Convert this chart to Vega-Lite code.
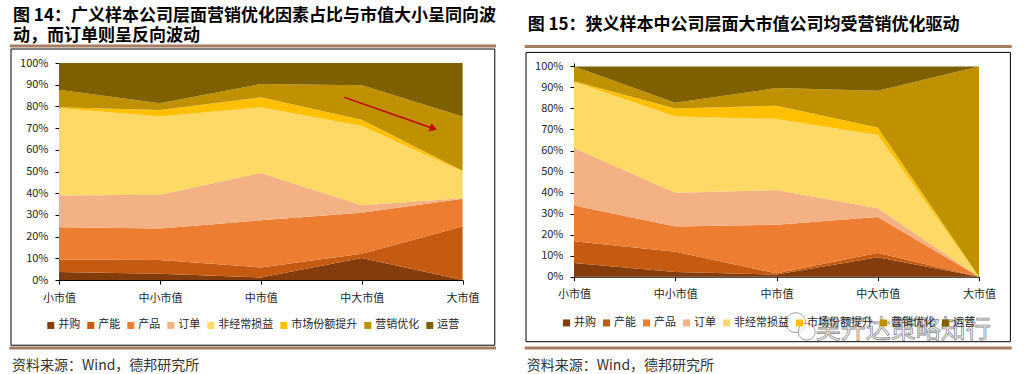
{
  "$schema": "https://vega.github.io/schema/vega-lite/v6.json",
  "autosize": {"type": "pad"},
  "padding": 0,
  "background": "white",
  "bounds": "flush",
  "spacing": 111,
  "resolve": {"scale": {"color": "independent"}, "legend": {"color": "independent"}},
  "config": {
    "view": {"stroke": null},
    "axis": {"grid": false, "domainColor": "#000000", "tickColor": "#000000", "labelColor": "#262626", "labelFont": "Noto Sans CJK SC", "labelFontSize": 11, "tickSize": 4, "title": null, "zindex": 1},
    "legend": {"symbolType": "square", "symbolSize": 49, "symbolStrokeWidth": 0, "labelFont": "Noto Sans CJK SC", "labelFontSize": 11, "labelColor": "#262626", "labelOffset": 2, "columnPadding": 5, "padding": 0, "title": null},
    "text": {"font": "Noto Sans CJK SC"}
  },
  "datasets": {
    "left": [
      {"c": "小市值", "s": "并购", "v": 3.7, "o": 1},
      {"c": "小市值", "s": "产能", "v": 5.8, "o": 2},
      {"c": "小市值", "s": "产品", "v": 14.8, "o": 3},
      {"c": "小市值", "s": "订单", "v": 14.6, "o": 4},
      {"c": "小市值", "s": "非经常损益", "v": 40.4, "o": 5},
      {"c": "小市值", "s": "市场份额提升", "v": 0.3, "o": 6},
      {"c": "小市值", "s": "营销优化", "v": 8.1, "o": 7},
      {"c": "小市值", "s": "运营", "v": 12.3, "o": 8},
      {"c": "中小市值", "s": "并购", "v": 2.9, "o": 1},
      {"c": "中小市值", "s": "产能", "v": 6.3, "o": 2},
      {"c": "中小市值", "s": "产品", "v": 14.5, "o": 3},
      {"c": "中小市值", "s": "订单", "v": 15.6, "o": 4},
      {"c": "中小市值", "s": "非经常损益", "v": 36.1, "o": 5},
      {"c": "中小市值", "s": "市场份额提升", "v": 2.9, "o": 6},
      {"c": "中小市值", "s": "营销优化", "v": 3.1, "o": 7},
      {"c": "中小市值", "s": "运营", "v": 18.6, "o": 8},
      {"c": "中市值", "s": "并购", "v": 1.2, "o": 1},
      {"c": "中市值", "s": "产能", "v": 4.6, "o": 2},
      {"c": "中市值", "s": "产品", "v": 21.7, "o": 3},
      {"c": "中市值", "s": "订单", "v": 21.8, "o": 4},
      {"c": "中市值", "s": "非经常损益", "v": 30.3, "o": 5},
      {"c": "中市值", "s": "市场份额提升", "v": 4.6, "o": 6},
      {"c": "中市值", "s": "营销优化", "v": 6.1, "o": 7},
      {"c": "中市值", "s": "运营", "v": 9.7, "o": 8},
      {"c": "中大市值", "s": "并购", "v": 10.1, "o": 1},
      {"c": "中大市值", "s": "产能", "v": 2.0, "o": 2},
      {"c": "中大市值", "s": "产品", "v": 18.9, "o": 3},
      {"c": "中大市值", "s": "订单", "v": 3.4, "o": 4},
      {"c": "中大市值", "s": "非经常损益", "v": 36.6, "o": 5},
      {"c": "中大市值", "s": "市场份额提升", "v": 2.9, "o": 6},
      {"c": "中大市值", "s": "营销优化", "v": 15.8, "o": 7},
      {"c": "中大市值", "s": "运营", "v": 10.3, "o": 8},
      {"c": "大市值", "s": "并购", "v": 0, "o": 1},
      {"c": "大市值", "s": "产能", "v": 24.7, "o": 2},
      {"c": "大市值", "s": "产品", "v": 12.8, "o": 3},
      {"c": "大市值", "s": "订单", "v": 0.2, "o": 4},
      {"c": "大市值", "s": "非经常损益", "v": 12.4, "o": 5},
      {"c": "大市值", "s": "市场份额提升", "v": 0.3, "o": 6},
      {"c": "大市值", "s": "营销优化", "v": 24.9, "o": 7},
      {"c": "大市值", "s": "运营", "v": 24.7, "o": 8}
    ],
    "right": [
      {"c": "小市值", "s": "并购", "v": 6.5, "o": 1},
      {"c": "小市值", "s": "产能", "v": 10.3, "o": 2},
      {"c": "小市值", "s": "产品", "v": 17.1, "o": 3},
      {"c": "小市值", "s": "订单", "v": 27.3, "o": 4},
      {"c": "小市值", "s": "非经常损益", "v": 31.5, "o": 5},
      {"c": "小市值", "s": "市场份额提升", "v": 0.2, "o": 6},
      {"c": "小市值", "s": "营销优化", "v": 7.1, "o": 7},
      {"c": "小市值", "s": "运营", "v": 0, "o": 8},
      {"c": "中小市值", "s": "并购", "v": 2.2, "o": 1},
      {"c": "中小市值", "s": "产能", "v": 9.7, "o": 2},
      {"c": "中小市值", "s": "产品", "v": 12.0, "o": 3},
      {"c": "中小市值", "s": "订单", "v": 16.0, "o": 4},
      {"c": "中小市值", "s": "非经常损益", "v": 36.3, "o": 5},
      {"c": "中小市值", "s": "市场份额提升", "v": 3.8, "o": 6},
      {"c": "中小市值", "s": "营销优化", "v": 2.7, "o": 7},
      {"c": "中小市值", "s": "运营", "v": 17.3, "o": 8},
      {"c": "中市值", "s": "并购", "v": 1.0, "o": 1},
      {"c": "中市值", "s": "产能", "v": 0.6, "o": 2},
      {"c": "中市值", "s": "产品", "v": 23.1, "o": 3},
      {"c": "中市值", "s": "订单", "v": 16.5, "o": 4},
      {"c": "中市值", "s": "非经常损益", "v": 33.8, "o": 5},
      {"c": "中市值", "s": "市场份额提升", "v": 6.3, "o": 6},
      {"c": "中市值", "s": "营销优化", "v": 8.4, "o": 7},
      {"c": "中市值", "s": "运营", "v": 10.3, "o": 8},
      {"c": "中大市值", "s": "并购", "v": 9.2, "o": 1},
      {"c": "中大市值", "s": "产能", "v": 2.1, "o": 2},
      {"c": "中大市值", "s": "产品", "v": 17.1, "o": 3},
      {"c": "中大市值", "s": "订单", "v": 4.1, "o": 4},
      {"c": "中大市值", "s": "非经常损益", "v": 34.9, "o": 5},
      {"c": "中大市值", "s": "市场份额提升", "v": 3.6, "o": 6},
      {"c": "中大市值", "s": "营销优化", "v": 17.4, "o": 7},
      {"c": "中大市值", "s": "运营", "v": 11.6, "o": 8},
      {"c": "大市值", "s": "并购", "v": 0, "o": 1},
      {"c": "大市值", "s": "产能", "v": 0, "o": 2},
      {"c": "大市值", "s": "产品", "v": 0, "o": 3},
      {"c": "大市值", "s": "订单", "v": 0, "o": 4},
      {"c": "大市值", "s": "非经常损益", "v": 0, "o": 5},
      {"c": "大市值", "s": "市场份额提升", "v": 0, "o": 6},
      {"c": "大市值", "s": "营销优化", "v": 100, "o": 7},
      {"c": "大市值", "s": "运营", "v": 0, "o": 8}
    ]
  },
  "hconcat": [
    {
      "width": 403.6,
      "height": 217,
      "resolve": {"scale": {"x": "independent", "y": "independent"}},
      "layer": [
        {
          "data": {"values": [{}]},
          "mark": {"type": "rect", "fill": "transparent", "strokeWidth": 0},
          "encoding": {
            "x": {"datum": -0.5818, "type": "quantitative", "scale": {"domain": [0, 4], "nice": false, "zero": false}, "axis": null},
            "x2": {"datum": 9.5669},
            "y": {"datum": 1.2871, "type": "quantitative", "scale": {"domain": [0, 1], "nice": false, "zero": false}, "axis": null},
            "y2": {"datum": -0.4364}
          }
        },
        {
          "data": {"name": "left"},
          "mark": {"type": "area"},
          "encoding": {
            "x": {"field": "c", "type": "ordinal", "sort": ["小市值", "中小市值", "中市值", "中大市值", "大市值"], "scale": {"type": "point", "padding": 0}, "axis": {"labelAngle": 0, "labelPadding": 8}},
            "y": {"field": "v", "type": "quantitative", "stack": "normalize", "scale": {"domain": [0, 1], "nice": false, "zero": false}, "axis": {"format": ".0%", "values": [0, 0.1, 0.2, 0.3, 0.4, 0.5, 0.6, 0.7, 0.8, 0.9, 1], "labelPadding": 7}},
            "color": {"field": "s", "type": "nominal", "scale": {"domain": ["并购", "产能", "产品", "订单", "非经常损益", "市场份额提升", "营销优化", "运营"], "range": ["#843C0C", "#C55A11", "#ED7D31", "#F4B183", "#FFD966", "#FFC000", "#BF9000", "#7F6000"]}, "legend": {"orient": "none", "legendX": -13.7, "legendY": 256.7, "direction": "horizontal"}},
            "order": {"field": "o", "type": "quantitative"}
          }
        },
        {
          "data": {"values": [{}]},
          "mark": {"type": "rect", "fill": null, "stroke": "#000000", "strokeWidth": 1},
          "encoding": {
            "x": {"datum": -0.4757, "type": "quantitative", "scale": {"domain": [0, 4], "nice": false, "zero": false}, "axis": null},
            "x2": {"datum": 4.319},
            "y": {"datum": 1.0645, "type": "quantitative", "scale": {"domain": [0, 1], "nice": false, "zero": false}, "axis": null},
            "y2": {"datum": -0.3005}
          }
        },
        {
          "data": {"values": [{}]},
          "mark": {"type": "rule", "color": "#A47D62", "strokeWidth": 3},
          "encoding": {
            "x": {"datum": -0.4876, "type": "quantitative", "scale": {"domain": [0, 4], "nice": false, "zero": false}, "axis": null},
            "x2": {"datum": 4.331},
            "y": {"datum": 1.0783, "type": "quantitative", "scale": {"domain": [0, 1], "nice": false, "zero": false}, "axis": null}
          }
        },
        {
          "data": {"values": [{}]},
          "mark": {"type": "rule", "color": "#A47D62", "strokeWidth": 3},
          "encoding": {
            "x": {"datum": -0.4926, "type": "quantitative", "scale": {"domain": [0, 4], "nice": false, "zero": false}, "axis": null},
            "x2": {"datum": 4.331},
            "y": {"datum": -0.3134, "type": "quantitative", "scale": {"domain": [0, 1], "nice": false, "zero": false}, "axis": null}
          }
        },
        {
          "data": {"values": [{}]},
          "mark": {"type": "text", "align": "left", "baseline": "middle", "fontSize": 17, "fontWeight": "bold", "color": "#000000", "lineHeight": 20},
          "encoding": {
            "x": {"datum": -0.4559, "type": "quantitative", "scale": {"domain": [0, 4], "nice": false, "zero": false}, "axis": null},
            "y": {"datum": 1.218, "type": "quantitative", "scale": {"domain": [0, 1], "nice": false, "zero": false}, "axis": null},
            "text": {"value": ["图 14：广义样本公司层面营销优化因素占比与市值大小呈同向波", "动，而订单则呈反向波动"]}
          }
        },
        {
          "data": {"values": [{}]},
          "mark": {"type": "text", "align": "left", "baseline": "middle", "fontSize": 14, "color": "#333333"},
          "encoding": {
            "x": {"datum": -0.4658, "type": "quantitative", "scale": {"domain": [0, 4], "nice": false, "zero": false}, "axis": null},
            "y": {"datum": -0.3949, "type": "quantitative", "scale": {"domain": [0, 1], "nice": false, "zero": false}, "axis": null},
            "text": {"value": "资料来源：Wind，德邦研究所"}
          }
        },
        {
          "data": {"values": [{}]},
          "mark": {"type": "rule", "color": "#C00000", "strokeWidth": 1.5},
          "encoding": {
            "x": {"datum": 2.828, "type": "quantitative", "scale": {"domain": [0, 4], "nice": false, "zero": false}, "axis": null},
            "x2": {"datum": 3.711},
            "y": {"datum": 0.8415, "type": "quantitative", "scale": {"domain": [0, 1], "nice": false, "zero": false}, "axis": null},
            "y2": {"datum": 0.6983}
          }
        },
        {
          "data": {"values": [{}]},
          "mark": {"type": "point", "shape": "triangle-right", "filled": true, "color": "#C00000", "opacity": 1, "size": 70, "angle": 20},
          "encoding": {
            "x": {"datum": 3.711, "type": "quantitative", "scale": {"domain": [0, 4], "nice": false, "zero": false}, "axis": null},
            "y": {"datum": 0.6983, "type": "quantitative", "scale": {"domain": [0, 1], "nice": false, "zero": false}, "axis": null}
          }
        }
      ]
    },
    {
      "width": 405,
      "height": 213.7,
      "resolve": {"scale": {"x": "independent", "y": "independent"}},
      "layer": [
        {
          "data": {"name": "right"},
          "mark": {"type": "area"},
          "encoding": {
            "x": {"field": "c", "type": "ordinal", "sort": ["小市值", "中小市值", "中市值", "中大市值", "大市值"], "scale": {"type": "point", "padding": 0}, "axis": {"labelAngle": 0, "labelPadding": 8}},
            "y": {"field": "v", "type": "quantitative", "stack": "normalize", "scale": {"domain": [0, 1.0162], "nice": false, "zero": false}, "axis": {"format": ".0%", "values": [0, 0.1, 0.2, 0.3, 0.4, 0.5, 0.6, 0.7, 0.8, 0.9, 1], "labelPadding": 7}},
            "color": {"field": "s", "type": "nominal", "scale": {"domain": ["并购", "产能", "产品", "订单", "非经常损益", "市场份额提升", "营销优化", "运营"], "range": ["#843C0C", "#C55A11", "#ED7D31", "#F4B183", "#FFD966", "#FFC000", "#BF9000", "#7F6000"]}, "legend": {"orient": "none", "legendX": -13, "legendY": 254.2, "direction": "horizontal"}},
            "order": {"field": "o", "type": "quantitative"}
          }
        },
        {
          "data": {"values": [{}]},
          "mark": {"type": "rect", "fill": null, "stroke": "#000000", "strokeWidth": 1},
          "encoding": {
            "x": {"datum": -0.474, "type": "quantitative", "scale": {"domain": [0, 4], "nice": false, "zero": false}, "axis": null},
            "x2": {"datum": 4.31},
            "y": {"datum": 1.0666, "type": "quantitative", "scale": {"domain": [0, 1.0162], "nice": false, "zero": false}, "axis": null},
            "y2": {"datum": -0.3091}
          }
        },
        {
          "data": {"values": [{}]},
          "mark": {"type": "rule", "color": "#A47D62", "strokeWidth": 3},
          "encoding": {
            "x": {"datum": -0.4869, "type": "quantitative", "scale": {"domain": [0, 4], "nice": false, "zero": false}, "axis": null},
            "x2": {"datum": 4.323},
            "y": {"datum": 1.0951, "type": "quantitative", "scale": {"domain": [0, 1.0162], "nice": false, "zero": false}, "axis": null}
          }
        },
        {
          "data": {"values": [{}]},
          "mark": {"type": "rule", "color": "#A47D62", "strokeWidth": 3},
          "encoding": {
            "x": {"datum": -0.4869, "type": "quantitative", "scale": {"domain": [0, 4], "nice": false, "zero": false}, "axis": null},
            "x2": {"datum": 4.323},
            "y": {"datum": -0.339, "type": "quantitative", "scale": {"domain": [0, 1.0162], "nice": false, "zero": false}, "axis": null}
          }
        },
        {
          "data": {"values": [{}]},
          "mark": {"type": "text", "align": "left", "baseline": "middle", "fontSize": 17, "fontWeight": "bold", "color": "#000000"},
          "encoding": {
            "x": {"datum": -0.4573, "type": "quantitative", "scale": {"domain": [0, 4], "nice": false, "zero": false}, "axis": null},
            "y": {"datum": 1.1983, "type": "quantitative", "scale": {"domain": [0, 1.0162], "nice": false, "zero": false}, "axis": null},
            "text": {"value": "图 15：狭义样本中公司层面大市值公司均受营销优化驱动"}
          }
        },
        {
          "data": {"values": [{}]},
          "mark": {"type": "text", "align": "left", "baseline": "middle", "fontSize": 14, "color": "#333333"},
          "encoding": {
            "x": {"datum": -0.467, "type": "quantitative", "scale": {"domain": [0, 4], "nice": false, "zero": false}, "axis": null},
            "y": {"datum": -0.4232, "type": "quantitative", "scale": {"domain": [0, 1.0162], "nice": false, "zero": false}, "axis": null},
            "text": {"value": "资料来源：Wind，德邦研究所"}
          }
        },
        {
          "data": {"values": [{}]},
          "mark": {"type": "point", "shape": "circle", "filled": false, "fill": "#ffffff", "fillOpacity": 0.6, "stroke": "#A0A0A0", "strokeWidth": 1, "opacity": 1, "size": 400},
          "encoding": {
            "x": {"datum": 2.189, "type": "quantitative", "scale": {"domain": [0, 4], "nice": false, "zero": false}, "axis": null},
            "y": {"datum": -0.2187, "type": "quantitative", "scale": {"domain": [0, 1.0162], "nice": false, "zero": false}, "axis": null}
          }
        },
        {
          "data": {"values": [{}]},
          "mark": {"type": "point", "shape": "circle", "filled": false, "fill": "#ffffff", "fillOpacity": 0.6, "stroke": "#A0A0A0", "strokeWidth": 1, "opacity": 1, "size": 289},
          "encoding": {
            "x": {"datum": 2.298, "type": "quantitative", "scale": {"domain": [0, 4], "nice": false, "zero": false}, "axis": null},
            "y": {"datum": -0.2615, "type": "quantitative", "scale": {"domain": [0, 1.0162], "nice": false, "zero": false}, "axis": null}
          }
        },
        {
          "data": {"values": [{}]},
          "mark": {"type": "text", "align": "left", "baseline": "middle", "fontSize": 25, "fill": "#ffffff", "fillOpacity": 0.85, "stroke": "#8C8C8C", "strokeWidth": 0.8},
          "encoding": {
            "x": {"datum": 2.387, "type": "quantitative", "scale": {"domain": [0, 4], "nice": false, "zero": false}, "axis": null},
            "y": {"datum": -0.252, "type": "quantitative", "scale": {"domain": [0, 1.0162], "nice": false, "zero": false}, "axis": null},
            "text": {"value": "吴开达策略知行"}
          }
        }
      ]
    }
  ]
}
